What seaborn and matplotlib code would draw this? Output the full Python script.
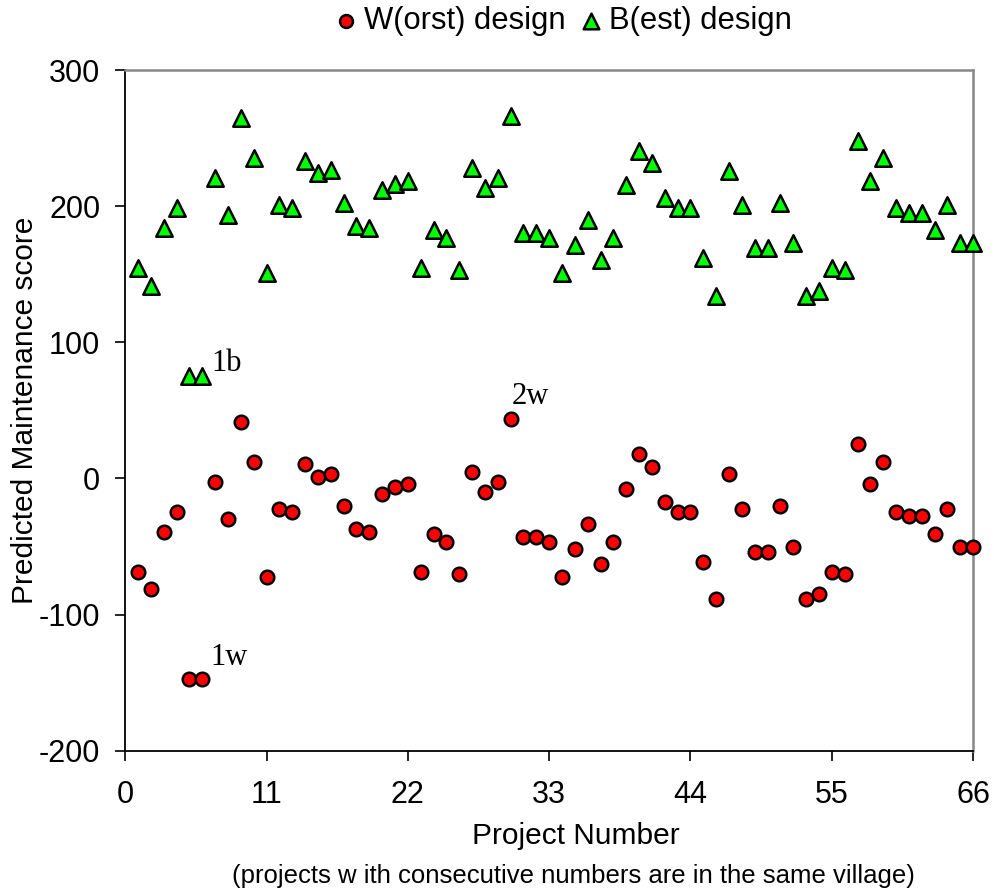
import matplotlib
matplotlib.use("Agg")
import matplotlib.pyplot as plt
import seaborn as sns
import pandas as pd

# project numbers 1..66
projects = list(range(1, 67))

# W(orst) design scores
worst = [-68.5, -81.4, -39.1, -24.4, -147.5, -147.5, -2.4, -29.8, 41.6, 12.2,
         -72.2, -22.5, -24.4, 10.3, 1.0, 3.2, -20.5, -37.4, -39.1, -11.5,
         -6.4, -4.2, -68.5, -40.8, -46.5, -70.2, 4.9, -9.8, -2.4, 43.3,
         -42.8, -42.8, -46.5, -72.2, -51.9, -33.5, -62.9, -46.5, -7.8, 17.8,
         8.6, -17.1, -24.4, -24.4, -61.1, -88.8, 2.9, -22.5, -53.8, -53.8,
         -20.5, -50.1, -88.8, -85.1, -68.5, -70.2, 25.2, -4.2, 12.2, -24.4,
         -27.9, -27.9, -40.8, -22.5, -50.1, -50.1]

# B(est) design scores
best = [154.5, 141.6, 183.9, 198.6, 75.5, 75.5, 220.6, 193.2, 264.6, 235.2,
        150.8, 200.5, 198.6, 233.3, 224.0, 226.2, 202.5, 185.6, 183.9, 211.5,
        216.6, 218.8, 154.5, 182.2, 176.5, 152.8, 227.9, 213.2, 220.6, 266.3,
        180.2, 180.2, 176.5, 150.8, 171.1, 189.5, 160.1, 176.5, 215.2, 240.8,
        231.6, 205.9, 198.6, 198.6, 161.9, 134.2, 225.9, 200.5, 169.2, 169.2,
        202.5, 172.9, 134.2, 137.9, 154.5, 152.8, 248.2, 218.8, 235.2, 198.6,
        195.1, 195.1, 182.2, 200.5, 172.9, 172.9]

x_ticks = [0, 11, 22, 33, 44, 55, 66]
y_ticks = [-200, -100, 0, 100, 200, 300]

# point labels: (text, x, y)
notes = [("1b", 6.7, 79), ("1w", 6.6, -137), ("2w", 30.1, 55)]

df = pd.DataFrame({"project": projects, "worst": worst, "best": best})

sns.set_style("ticks", {"text.color": "black", "xtick.color": "black",
                        "ytick.color": "black", "axes.labelcolor": "black"})
plt.rcParams['font.family'] = ['Liberation Sans', 'DejaVu Sans']
plt.rcParams['axes.unicode_minus'] = False

fig = plt.figure(figsize=(9.94, 8.94), dpi=100)
ax = fig.add_axes([0.126, 0.1603, 0.853, 0.7614])

sns.scatterplot(data=df, x="project", y="worst", ax=ax, marker="o", s=95,
                color="#ff0000", edgecolor="black", linewidth=1.8,
                label="W(orst) design", zorder=3, clip_on=False)
sns.scatterplot(data=df, x="project", y="best", ax=ax, marker="^", s=140,
                color="#00ff00", edgecolor="black", linewidth=1.8,
                label="B(est) design", zorder=3, clip_on=False)

for txt, tx, ty in notes:
    ax.text(tx, ty, txt, family="Liberation Serif", fontsize=22,
            va="baseline", color="black")

ax.set_xlim(0, 66)
ax.set_ylim(-200, 300)
ax.set_xticks(x_ticks)
ax.set_yticks(y_ticks)
ax.tick_params(axis="both", direction="out", length=7, width=1.2,
               labelsize=22, color="black", labelcolor="black", pad=11)
ax.tick_params(axis="x", pad=14)

for side in ["top", "right"]:
    ax.spines[side].set_visible(True)
    ax.spines[side].set_color("#888888")
    ax.spines[side].set_linewidth(1.8)
for side in ["left", "bottom"]:
    ax.spines[side].set_color("black")
    ax.spines[side].set_linewidth(1.3)

ax.set_ylabel("Predicted Maintenance score", fontsize=21.5, color="black")
ax.yaxis.set_label_coords(-0.102, 0.5)
ax.set_xlabel("Project Number", fontsize=21.5, color="black")
ax.xaxis.set_label_coords(0.531, -0.105)
fig.text(0.577, 0.020, "(projects w ith consecutive numbers are in the same village)",
         fontsize=18.5, ha="center", va="center", color="black")

ax.legend(loc="center", bbox_to_anchor=(0.566, 0.976),
          bbox_transform=fig.transFigure, ncol=2, frameon=False,
          fontsize=22.3, handletextpad=0.2, columnspacing=0.4,
          handlelength=0.8, markerscale=0.95)

fig.savefig("out.png", dpi=100)
